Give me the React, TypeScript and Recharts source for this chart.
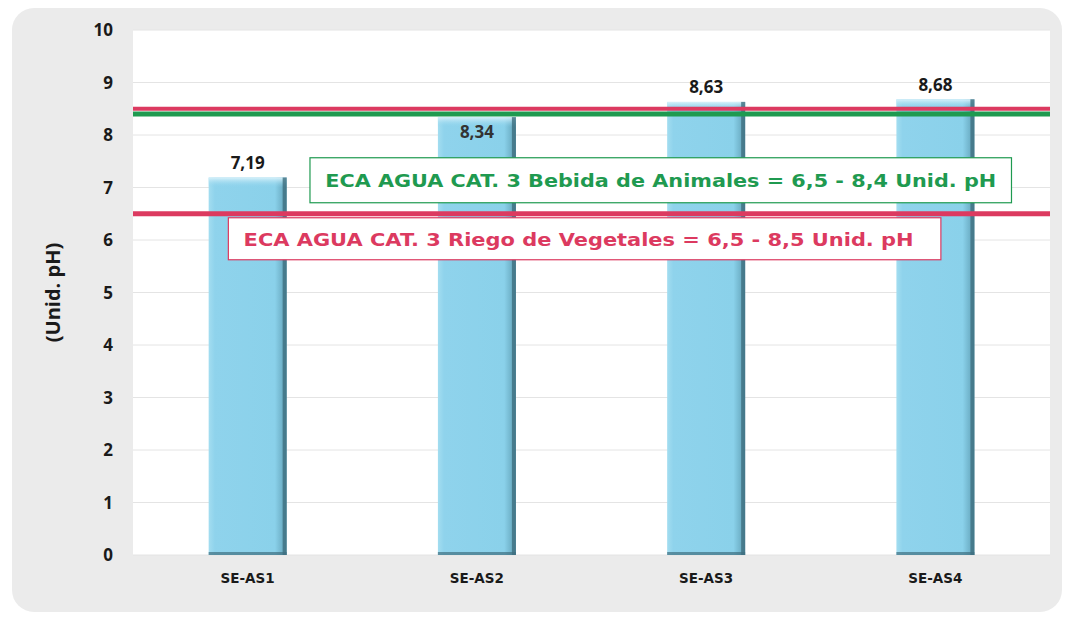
import React from "react";
import {
  ComposedChart,
  Bar,
  XAxis,
  YAxis,
  CartesianGrid,
  ReferenceLine,
  LabelList,
} from "recharts";

const categories = ["SE-AS1", "SE-AS2", "SE-AS3", "SE-AS4"];
const phValues = [7.19, 8.34, 8.63, 8.68];
const yTicks = [0, 1, 2, 3, 4, 5, 6, 7, 8, 9, 10];
const limitAnimalesMax = 8.4;
const limitVegetalesMax = 8.5;
const limitMin = 6.5;
const textAnimales = "ECA AGUA CAT. 3 Bebida de Animales = 6,5 - 8,4 Unid. pH";
const textVegetales = "ECA AGUA CAT. 3 Riego de Vegetales = 6,5 - 8,5 Unid. pH";

const data = categories.map((c, i) => ({ name: c, value: phValues[i] }));

const RED = "#dc3a60";
const GREEN = "#1f9a50";
const ANNOT_FONT = "'DejaVu Sans', Verdana, sans-serif";
const NUM_FONT = "'Open Sans', 'Noto Sans', sans-serif";

const fmt = (v: number) => v.toFixed(2).replace(".", ",");

const BarShape = (props: any) => {
  const { x, y, width, height } = props;
  if (!height || height <= 0) return null;
  return (
    <g>
      <rect x={x} y={y} width={width} height={height} fill="url(#barGrad)" />
      <rect x={x} y={y} width={width} height={Math.min(10, height)} fill="url(#barTop)" />
      <rect x={x + width - 4} y={y} width={4} height={height} fill="#3f6f80" opacity={0.8} />
      <rect x={x} y={y + height - 3} width={width} height={3} fill="#3f6f80" opacity={0.7} />
    </g>
  );
};

const ValueLabel = (props: any) => {
  const { x, y, width, value } = props;
  const v = Number(value);
  const inside = v > limitAnimalesMax - 0.2 && v < limitVegetalesMax;
  const ty = inside ? y + 14 : y - 15;
  return (
    <text
      x={x + width / 2}
      y={ty}
      textAnchor="middle"
      dominantBaseline="central"
      fontFamily={NUM_FONT}
      fontWeight={700}
      fontSize={17}
      fill={inside ? "#333" : "#1a1a1a"}
    >
      {fmt(v)}
    </text>
  );
};

const BoxesLabel = (props: any) => {
  const vb = props.viewBox || {};
  const { x, y, width } = vb;
  const gx1 = x + width * 0.193;
  const gx2 = x + width * 0.958;
  const rx1 = x + width * 0.104;
  const rx2 = x + width * 0.881;
  return (
    <g>
      <rect x={gx1} y={y - 56} width={gx2 - gx1} height={45} fill="#fff" stroke={GREEN} strokeWidth={1.2} />
      <text
        x={(gx1 + gx2) / 2}
        y={y - 33}
        textAnchor="middle"
        dominantBaseline="central"
        fontFamily={ANNOT_FONT}
        fontWeight={700}
        fontSize={17}
        fill={GREEN}
        textLength={671}
        lengthAdjust="spacingAndGlyphs"
      >
        {textAnimales}
      </text>
      <rect x={rx1} y={y + 4} width={rx2 - rx1} height={42} fill="#fff" stroke={RED} strokeWidth={1.2} />
      <text
        x={(rx1 + rx2) / 2 - 6}
        y={y + 26}
        textAnchor="middle"
        dominantBaseline="central"
        fontFamily={ANNOT_FONT}
        fontWeight={700}
        fontSize={17}
        fill={RED}
        textLength={670}
        lengthAdjust="spacingAndGlyphs"
      >
        {textVegetales}
      </text>
    </g>
  );
};

export default function App() {
  return (
    <div style={{ position: "absolute", left: 0, top: 0, width: 1072, height: 623, background: "#fff" }}>
      <div
        style={{
          position: "absolute",
          left: 12,
          top: 8,
          width: 1050,
          height: 604,
          background: "#ebebeb",
          borderRadius: 22,
        }}
      />
      <div style={{ position: "absolute", left: 0, top: 0 }}>
        <ComposedChart
          width={1072}
          height={623}
          data={data}
          margin={{ top: 30, right: 22, bottom: 38, left: 0 }}
          barCategoryGap="33%"
        >
          <defs>
            <linearGradient id="barGrad" x1="0" y1="0" x2="1" y2="0">
              <stop offset="0" stopColor="#a3ddf0" />
              <stop offset="0.08" stopColor="#8fd3ec" />
              <stop offset="0.85" stopColor="#8ad1ea" />
              <stop offset="1" stopColor="#5f9fb5" />
            </linearGradient>
            <linearGradient id="barTop" x1="0" y1="0" x2="0" y2="1">
              <stop offset="0" stopColor="#d8f1fa" />
              <stop offset="1" stopColor="#8bd2ec" stopOpacity={0} />
            </linearGradient>
          </defs>
          <CartesianGrid vertical={false} stroke="#e4e4e4" fill="#ffffff" />
          <XAxis
            dataKey="name"
            axisLine={false}
            tickLine={false}
            tickMargin={12}
            tick={{ fontFamily: ANNOT_FONT, fontWeight: 700, fontSize: 13.5, fill: "#1a1a1a" }}
          />
          <YAxis
            domain={[0, 10]}
            ticks={yTicks}
            width={133}
            axisLine={false}
            tickLine={false}
            tickMargin={14}
            tick={{ fontFamily: NUM_FONT, fontWeight: 700, fontSize: 17, fill: "#1a1a1a" }}
            label={{
              value: "(Unid. pH)",
              angle: -90,
              position: "insideLeft",
              offset: 53,
              style: { fontFamily: NUM_FONT, fontWeight: 700, fontSize: 20, fill: "#1a1a1a", textAnchor: "middle" },
            }}
          />
          <Bar dataKey="value" shape={BarShape} isAnimationActive={false}>
            <LabelList dataKey="value" content={ValueLabel} />
          </Bar>
          <ReferenceLine y={limitVegetalesMax} stroke={RED} strokeWidth={4} ifOverflow="visible" />
          <ReferenceLine y={limitAnimalesMax} stroke={GREEN} strokeWidth={5} ifOverflow="visible" />
          <ReferenceLine y={limitMin} stroke={RED} strokeWidth={5} label={BoxesLabel} ifOverflow="visible" />
        </ComposedChart>
      </div>
    </div>
  );
}
